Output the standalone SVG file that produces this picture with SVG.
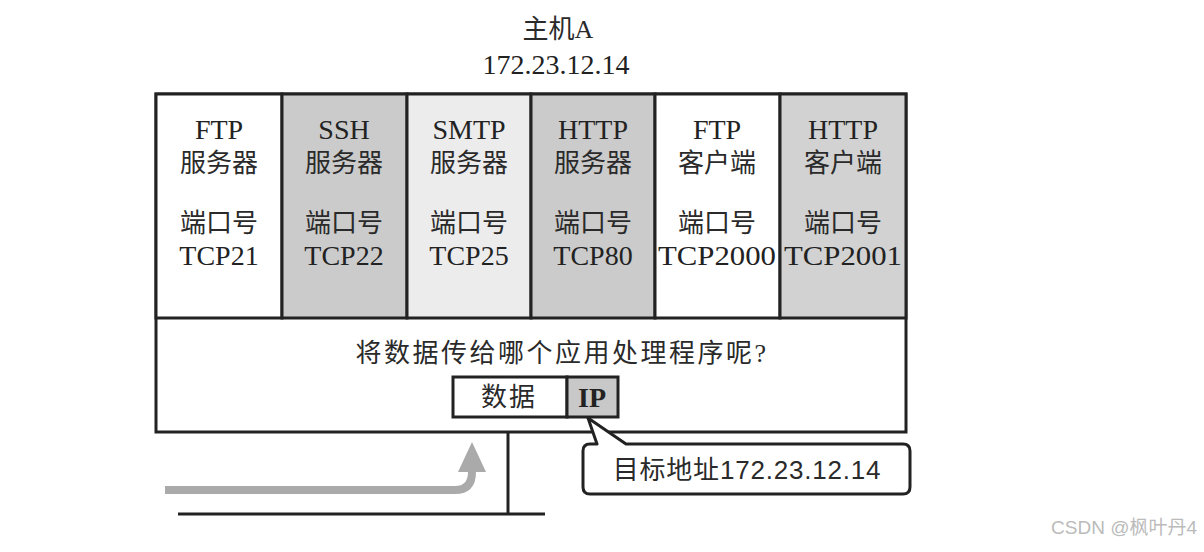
<svg xmlns="http://www.w3.org/2000/svg" width="1204" height="552" viewBox="0 0 1204 552">
<style>
.t{font-family:"Liberation Serif","Noto Sans CJK SC",serif;font-size:28px;fill:#222;text-anchor:middle}
.c{font-family:"Noto Sans CJK SC","Liberation Sans",sans-serif;font-size:26px;fill:#2a2a2a;text-anchor:middle}
.box{stroke:#222;stroke-width:3}
.ln{stroke:#222;stroke-width:3;fill:none}
</style>
<rect width="1204" height="552" fill="#fff"/>
<g id="title">
<text class="c" x="558" y="38" font-size="27">主机<tspan font-family="Liberation Serif">A</tspan></text>
<text class="t" x="556" y="74">172.23.12.14</text>
</g>
<g id="host">
<rect class="box" x="156" y="94" width="750" height="338" fill="#fff"/>
</g>
<g id="col1">
<rect class="box" x="156" y="94" width="126" height="224" fill="#fff"/>
<text class="t" x="219" y="139">FTP</text><text class="c" x="219" y="172">服务器</text>
<text class="c" x="219" y="232">端口号</text><text class="t" x="219" y="265">TCP21</text>
</g>
<g id="col2">
<rect class="box" x="282" y="94" width="125" height="224" fill="#cbcbcb"/>
<text class="t" x="344" y="139">SSH</text><text class="c" x="344" y="172">服务器</text>
<text class="c" x="344" y="232">端口号</text><text class="t" x="344" y="265">TCP22</text>
</g>
<g id="col3">
<rect class="box" x="407" y="94" width="124" height="224" fill="#ececec"/>
<text class="t" x="469" y="139">SMTP</text><text class="c" x="469" y="172">服务器</text>
<text class="c" x="469" y="232">端口号</text><text class="t" x="469" y="265">TCP25</text>
</g>
<g id="col4">
<rect class="box" x="531" y="94" width="124" height="224" fill="#cbcbcb"/>
<text class="t" x="593" y="139">HTTP</text><text class="c" x="593" y="172">服务器</text>
<text class="c" x="593" y="232">端口号</text><text class="t" x="593" y="265">TCP80</text>
</g>
<g id="col5">
<rect class="box" x="655" y="94" width="125" height="224" fill="#fff"/>
<text class="t" x="717" y="139">FTP</text><text class="c" x="717" y="172">客户端</text>
<text class="c" x="717" y="232">端口号</text><text class="t" x="717" y="265" textLength="118" lengthAdjust="spacingAndGlyphs">TCP2000</text>
</g>
<g id="col6">
<rect class="box" x="780" y="94" width="126" height="224" fill="#d2d2d2"/>
<text class="t" x="843" y="139">HTTP</text><text class="c" x="843" y="172">客户端</text>
<text class="c" x="843" y="232">端口号</text><text class="t" x="843" y="265" textLength="118" lengthAdjust="spacingAndGlyphs">TCP2001</text>
</g>
<g id="question">
<text class="c" x="562" y="362" font-size="30" letter-spacing="2.5">将数据传给哪个应用处理程序呢<tspan font-family="Liberation Serif">?</tspan></text>
</g>
<g id="packet">
<rect class="box" x="453" y="377" width="114" height="40" fill="#fff"/>
<rect class="box" x="567" y="377" width="51" height="40" fill="#c8c8c8"/>
<text class="c" x="509" y="406" font-size="27" letter-spacing="2">数据</text>
<text class="t" x="592" y="407" font-size="26" font-weight="bold">IP</text>
</g>
<g id="connectors">
<line class="ln" x1="508" y1="432" x2="508" y2="514"/>
<line class="ln" x1="178" y1="514" x2="545" y2="514"/>
<path d="M165,490 H455 Q472,490 472,472" fill="none" stroke="#aaa" stroke-width="8"/>
<polygon points="472,442 486,472 458,472" fill="#aaa"/>
</g>
<g id="callout">
<path d="M588,418 L597,444 H590 Q583,444 583,451 V487 Q583,494 590,494 H903 Q910,494 910,487 V451 Q910,444 903,444 H626 Z" fill="#fff" stroke="#222" stroke-width="3" stroke-linejoin="round"/>
<text class="c" x="747" y="479" font-size="28" letter-spacing="0.8">目标地址<tspan font-family="Liberation Sans">172.23.12.14</tspan></text>
</g>
<g id="watermark">
<text x="1197" y="534" font-family="Liberation Sans,'Noto Sans CJK SC',sans-serif" font-size="19" fill="#bbb" text-anchor="end">CSDN @枫叶丹4</text>
</g>
</svg>
